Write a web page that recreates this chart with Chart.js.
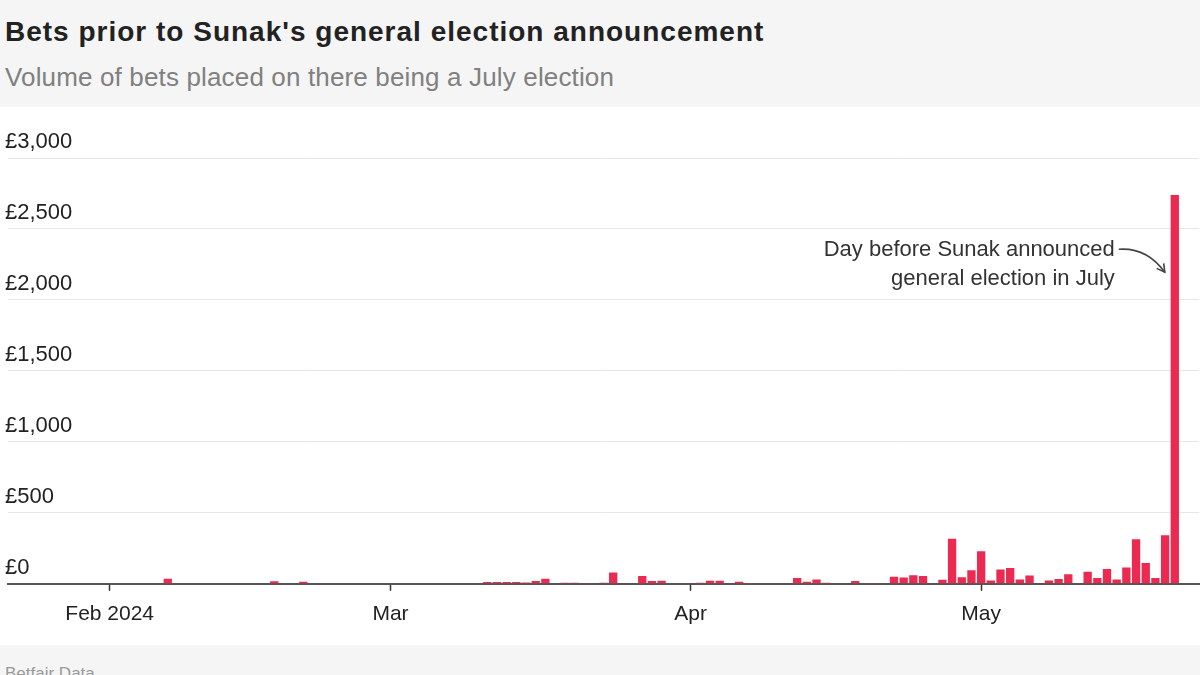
<!DOCTYPE html>
<html>
<head>
<meta charset="utf-8">
<script src="https://cdn.jsdelivr.net/npm/chart.js@4.4.1/dist/chart.umd.min.js"></script>
<style>
  html, body { margin: 0; padding: 0; }
  body {
    width: 1200px; height: 675px; overflow: hidden; position: relative;
    background: #f5f5f5; font-family: "Liberation Sans", Arial, sans-serif;
  }
  #title {
    position: absolute; left: 5px; top: 18px; white-space: nowrap;
    font-size: 28px; line-height: 28px; font-weight: bold; color: #222; letter-spacing: 1px;
  }
  #subtitle {
    position: absolute; left: 5px; top: 64px; white-space: nowrap;
    font-size: 26px; line-height: 26px; color: #808080; letter-spacing: 0.15px;
  }
  #plot { position: absolute; left: 0; top: 107px; width: 1200px; height: 538px; background: #fff; }
  #source { position: absolute; left: 5px; top: 664px; font-size: 17px; color: #9a9a9a; }
</style>
</head>
<body>
<div id="title">Bets prior to Sunak's general election announcement</div>
<div id="subtitle">Volume of bets placed on there being a July election</div>
<div id="plot"><canvas id="chart" width="1200" height="538"></canvas></div>
<div id="source">Betfair Data</div>

<script>
// ===== DATA =====
// daily volume of bets (£), one value per day starting 22 Jan 2024
const startDay = "2024-01-22";
const janValues = [0, 0, 0, 0, 0, 0, 0, 0, 0, 0]; // 22-31 Jan
const febValues = [
  0, 0, 0, 0, 0, 0, 35, 0, 0, 0,
  0, 0, 0, 0, 0, 0, 0, 18, 0, 0,
  15, 0, 0, 0, 0, 0, 0, 0, 0
];
const marValues = [
  0, 0, 0, 0, 0, 0, 0, 0, 0, 0,
  12, 12, 12, 12, 10, 20, 35, 0, 8, 8,
  5, 0, 8, 80, 0, 0, 55, 20, 22, 0, 0
];
const aprValues = [
  5, 8, 22, 22, 0, 15, 5, 0, 0, 0,
  0, 40, 15, 30, 8, 0, 0, 20, 6, 6,
  0, 50, 45, 60, 55, 0, 28, 317, 47, 96
];
const mayValues = [
  230, 23, 100, 112, 30, 58, 0, 23, 33, 68,
  0, 85, 40, 105, 30, 115, 313, 147, 40, 342,
  2740, 0, 0
];
const values = [...janValues, ...febValues, ...marValues, ...aprValues, ...mayValues];

const monthTicks = {
  "2024-02-01": "Feb 2024",
  "2024-03-01": "Mar",
  "2024-04-01": "Apr",
  "2024-05-01": "May"
};
const yMax = 3000;
const yStep = 500;

const noteLines = ["Day before Sunak announced", "general election in July"];

// ===== CATEGORIES =====
const days = [];
const d0 = new Date(startDay + "T00:00:00Z");
for (let i = 0; i < values.length; i++) {
  const d = new Date(d0.getTime() + i * 86400000);
  days.push(d.toISOString().slice(0, 10));
}

// ===== ANNOTATION =====
const peakNote = {
  id: "peakNote",
  afterDatasetsDraw(chart) {
    const ctx = chart.ctx;
    const y = chart.scales.y;
    const peakIndex = values.indexOf(Math.max(...values));
    const bar = chart.getDatasetMeta(0).data[peakIndex];
    const right = bar.x - 60;
    const y1 = y.getPixelForValue(2350);
    const y2 = y.getPixelForValue(2150);

    ctx.save();
    ctx.font = '22px "Liberation Sans", Arial, sans-serif';
    ctx.fillStyle = "#333";
    ctx.textAlign = "right";
    ctx.textBaseline = "middle";
    ctx.fillText(noteLines[0], right, y1);
    ctx.fillText(noteLines[1], right, y2);

    // curved arrow
    const sx = right + 4, sy = y1 - 1;
    const cx = bar.x - 28, cy = y1 - 3;
    const ex = bar.x - 10, ey = y1 + 22;
    ctx.strokeStyle = "#444";
    ctx.lineWidth = 1.6;
    ctx.beginPath();
    ctx.moveTo(sx, sy);
    ctx.quadraticCurveTo(cx, cy, ex, ey);
    ctx.stroke();
    const ang = Math.atan2(ey - cy, ex - cx);
    const len = 9;
    ctx.beginPath();
    ctx.moveTo(ex - len * Math.cos(ang - 0.5), ey - len * Math.sin(ang - 0.5));
    ctx.lineTo(ex, ey);
    ctx.lineTo(ex - len * Math.cos(ang + 0.5), ey - len * Math.sin(ang + 0.5));
    ctx.stroke();
    ctx.restore();
  }
};

// ===== CHART =====
new Chart(document.getElementById("chart"), {
  type: "bar",
  data: {
    labels: days,
    datasets: [{
      data: values,
      backgroundColor: "#ea2a51",
      borderWidth: 0,
      barPercentage: 0.86,
      categoryPercentage: 1
    }]
  },
  options: {
    responsive: false,
    animation: false,
    layout: { padding: { left: 8, right: 1, top: 51, bottom: 7 } },
    plugins: { legend: { display: false }, tooltip: { enabled: false } },
    scales: {
      x: {
        grid: {
          display: true,
          drawOnChartArea: false,
          drawTicks: true,
          tickLength: 7,
          tickColor: "#333",
          tickWidth: 1.5,
          offset: false
        },
        border: { display: true, color: "#555", width: 2 },
        ticks: {
          autoSkip: false,
          maxRotation: 0,
          padding: 11,
          color: "#222",
          font: { family: '"Liberation Sans", Arial, sans-serif', size: 21 },
          callback: function (val, idx) {
            const label = monthTicks[days[idx]];
            return label === undefined ? null : label;
          }
        }
      },
      y: {
        min: 0,
        max: yMax,
        afterFit: (scale) => { scale.width = 0; },
        grid: { color: "#e6e6e6", lineWidth: 1, drawTicks: false },
        border: { display: false },
        ticks: {
          stepSize: yStep,
          mirror: true,
          padding: -3,
          labelOffset: -16,
          color: "#222",
          font: { family: '"Liberation Sans", Arial, sans-serif', size: 22 },
          callback: (v) => "£" + v.toLocaleString("en-GB")
        }
      }
    }
  },
  plugins: [peakNote]
});
</script>
</body>
</html>
